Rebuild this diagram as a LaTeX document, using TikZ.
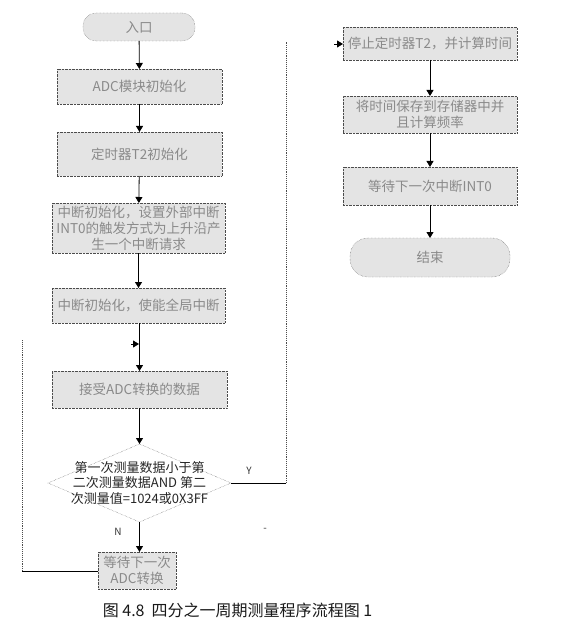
\documentclass[tikz,border=0pt]{standalone}
\usepackage{fontspec}
\setmainfont{Noto Sans CJK SC}
\usetikzlibrary{arrows.meta,shapes.geometric}
\definecolor{boxfill}{HTML}{E4E4E4}
\definecolor{boxtext}{HTML}{8A8A8A}
\begin{document}
\begin{tikzpicture}[x=1pt,y=-1pt,
  every node/.style={inner sep=0pt,outer sep=0pt},
  procbox/.style={draw=black!70,densely dotted,fill=boxfill,text=boxtext,
    font=\fontsize{13.5}{16}\selectfont,align=center},
  termbox/.style={procbox,rounded corners=13pt},
  decis/.style={diamond,aspect=2.35,draw=black!70,densely dotted,fill=white,
    text=black!85,font=\fontsize{13}{16}\selectfont,align=center},
  flow/.style={draw=black,line width=0.8pt,-{Triangle[length=6pt,width=7pt]}},
  plainline/.style={draw=black,line width=0.8pt},
  dotline/.style={draw=black!70,densely dotted,line width=0.9pt},
  lbl/.style={font=\fontsize{10}{12}\selectfont,text=black!80}]
\useasboundingbox (0,0) rectangle (560,639);
% left column
\node[termbox,minimum width=112pt,minimum height=28pt] (start) at (139,27) {入口};
\node[procbox,minimum width=165pt,minimum height=35pt] (adc) at (139.5,86.5) {ADC模块初始化};
\node[procbox,minimum width=165pt,minimum height=44pt] (tmr) at (139.5,154) {定时器T2初始化};
\node[procbox,minimum width=173pt,minimum height=50pt] (intr) at (138.5,228) {中断初始化，设置外部中断\\INT0的触发方式为上升沿产\\生一个中断请求};
\node[procbox,minimum width=173pt,minimum height=35pt] (ena) at (138.5,305.5) {中断初始化，使能全局中断};
\node[procbox,minimum width=175pt,minimum height=37pt] (rd) at (139.5,389.5) {接受ADC转换的数据};
\node[decis,minimum width=183pt,minimum height=78pt] (dec) at (139.5,483) {};
\node[text=black!85,font=\fontsize{13}{15.5}\selectfont,align=center] (dectxt) at (139.5,483) {第一次测量数据小于第\\二次测量数据AND 第二\\次测量值=1024或0X3FF};
\node[procbox,minimum width=78pt,minimum height=37pt] (wt) at (137,570.5) {等待下一次\\ADC转换};
% right column
\node[procbox,minimum width=174pt,minimum height=33pt] (stop) at (430,43.5) {停止定时器T2，并计算时间};
\node[procbox,minimum width=174pt,minimum height=37pt] (save) at (430,114.5) {将时间保存到存储器中并\\且计算频率};
\node[procbox,minimum width=174pt,minimum height=38pt] (wint) at (430,186) {等待下一次中断INT0};
\node[termbox,minimum width=160pt,minimum height=39pt,rounded corners=18pt] (end) at (430,257.5) {结束};
% main arrows
\draw[flow] (start) -- (adc);
\draw[flow] (adc) -- (tmr);
\draw[flow] (tmr) -- (intr);
\draw[flow] (intr) -- (ena);
\draw[flow] (ena.south -| rd.north) -- (rd);
\draw[flow] (rd) -- (dec);
\draw[flow] (dec.south) -- (wt.north -| dec.south);
\draw[flow] (stop) -- (save);
\draw[flow] (save) -- (wint);
\draw[flow] (wint) -- (end);
% loop back (N)
\coordinate (lc1) at (22,571);
\coordinate (lc2) at (22,340);
\coordinate (la0) at (131,344);
\coordinate (la1) at (139,344);
\draw[plainline] (wt.west |- lc1) -- (lc1);
\draw[dotline] (lc1) -- (lc2);
\draw[flow] (la0) -- (la1);
% Y branch
\coordinate (yc1) at (286,483);
\coordinate (yc2) at (286,42);
\coordinate (ya0) at (334,44);
\draw[plainline] (dec.east) -- (yc1);
\draw[dotline] (yc1) -- (yc2);
\draw[flow] (ya0) -- (stop.west |- ya0);
% labels
\node[lbl] (ylab) at (249,471) {Y};
\node[lbl] (nlab) at (118,532) {N};
\node[lbl] (dash) at (265,530) {-};
\node[font=\fontsize{16}{18}\selectfont,text=black!90] (cap) at (237.5,610) {图 4.8\ \ 四分之一周期测量程序流程图 1};
\end{tikzpicture}
\end{document}
